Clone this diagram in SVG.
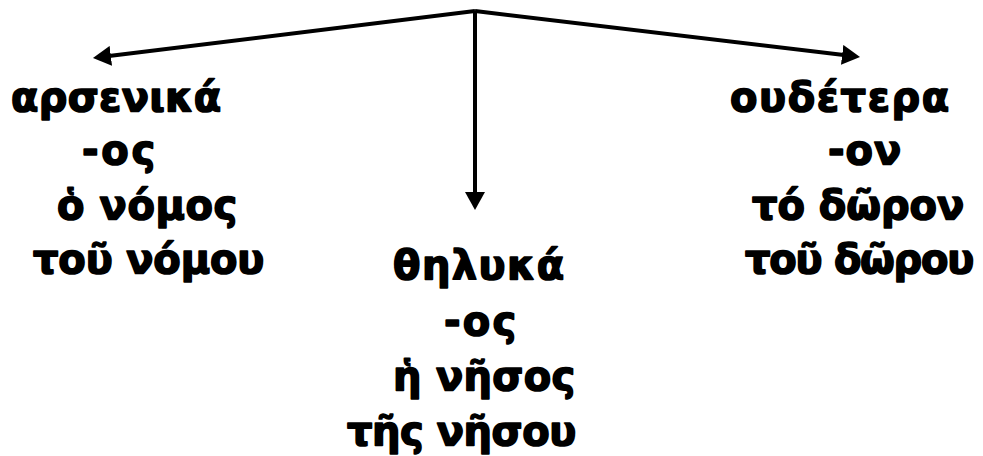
<svg xmlns="http://www.w3.org/2000/svg" width="983" height="456" viewBox="0 0 983 456">
<style>
text{font-family:"DejaVu Sans","Noto Sans",sans-serif;font-weight:bold;font-size:40px;fill:#000;stroke:#000;stroke-width:1.6;stroke-linejoin:round;letter-spacing:0.8px}
.c{stroke:#000;stroke-width:4;fill:none}
</style>
<defs>
<marker id="ah" markerUnits="userSpaceOnUse" markerWidth="18" markerHeight="20" refX="8" refY="10" orient="auto" viewBox="0 0 18 20">
<path d="M0,0 L18,10 L0,20 z" fill="#000"/>
</marker>
</defs>
<rect width="983" height="456" fill="#fff"/>
<g id="connectors">
<path class="c" d="M475,11 L102.9,56.8" marker-end="url(#ah)"/>
<path class="c" d="M475,11 L850.1,55.8" marker-end="url(#ah)"/>
<path class="c" d="M475,11 L475,200" marker-end="url(#ah)"/>
</g>
<g id="masculine">
<text x="11" y="111" textLength="211">αρσενικά</text>
<text x="82" y="164" textLength="74">-ος</text>
<text x="57" y="219" textLength="181">ὁ νόμος</text>
<text x="33" y="273" textLength="232">τοῦ νόμου</text>
</g>
<g id="feminine">
<text x="393" y="279" textLength="172">θηλυκά</text>
<text x="444" y="335" textLength="73">-ος</text>
<text x="393" y="390" textLength="183">ἡ νῆσος</text>
<text x="347" y="445" textLength="230">τῆς νῆσου</text>
</g>
<g id="neuter">
<text x="730" y="111" textLength="220">ουδέτερα</text>
<text x="828" y="164" textLength="74">-ον</text>
<text x="752" y="219" textLength="213">τό δῶρον</text>
<text x="745" y="273" textLength="230">τοῦ δῶρου</text>
</g>
</svg>
